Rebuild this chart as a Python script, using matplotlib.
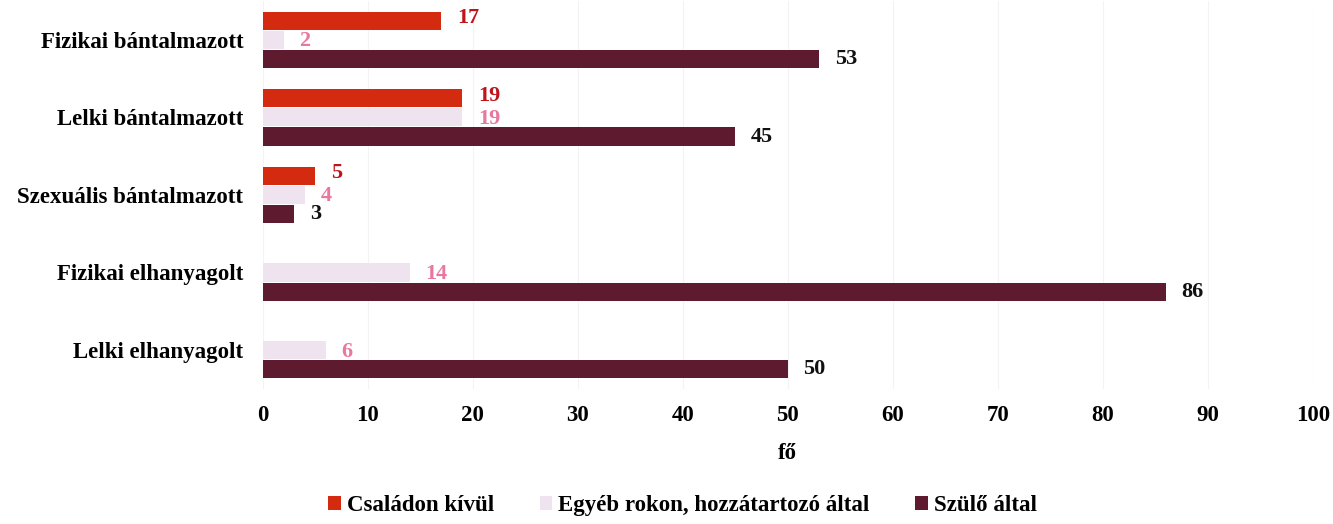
import numpy as np
import matplotlib.pyplot as plt

plt.rcParams['font.family'] = ['Liberation Serif', 'DejaVu Serif']
plt.rcParams['font.weight'] = 'bold'

kategoriak = ['Fizikai bántalmazott', 'Lelki bántalmazott', 'Szexuális bántalmazott',
              'Fizikai elhanyagolt', 'Lelki elhanyagolt']
csaladon_kivul = [17, 19, 5, 0, 0]
egyeb_rokon = [2, 19, 4, 14, 6]
szulo = [53, 45, 3, 86, 50]

sorozatok = ['Családon kívül', 'Egyéb rokon, hozzátartozó által', 'Szülő által']
szinek = ['#d42a10', '#efe3ef', '#5e1a2f']
cimke_szinek = ['#c0141c', '#e8789e', '#111111']
eltolas = [-0.03, 0.02, 0.0]

fig = plt.figure(figsize=(13.33, 5.24), dpi=100)
ax = fig.add_axes([0.197, 0.258, 0.788, 0.74])

y = np.arange(len(kategoriak))
h = 0.235
for i, (vals, nev) in enumerate(zip([csaladon_kivul, egyeb_rokon, szulo], sorozatok)):
    pos = y + (i - 1) * h * 1.05
    ax.barh(pos, vals, height=h, color=szinek[i], label=nev, zorder=3)
    for p, v in zip(pos, vals):
        if v == 0:
            continue
        ax.text(v + 1.5, p + eltolas[i], str(v), va='center', ha='left', fontsize=16,
                fontweight='bold', color=cimke_szinek[i])

ax.set_yticks(y)
ax.set_yticklabels(kategoriak, fontsize=16.5, fontweight='bold')
ax.set_ylim(4.5, -0.5)
ax.set_xlim(0, 100)
ax.set_xticks(range(0, 101, 10))
ax.tick_params(axis='x', labelsize=16.5, length=0, pad=12)
ax.tick_params(axis='y', length=0, pad=14)
ax.set_xlabel('fő', fontsize=16.5, fontweight='bold', labelpad=12)
ax.grid(axis='x', color='#f3f3f3', linewidth=0.8, zorder=0)
for s in ax.spines.values():
    s.set_visible(False)

fig.legend(loc='lower center', bbox_to_anchor=(0.512, -0.025), ncol=3, frameon=False,
           fontsize=16.5, handlelength=0.55, handleheight=0.55, handletextpad=0.25,
           columnspacing=2.0)

fig.savefig('out.png', dpi=100)
